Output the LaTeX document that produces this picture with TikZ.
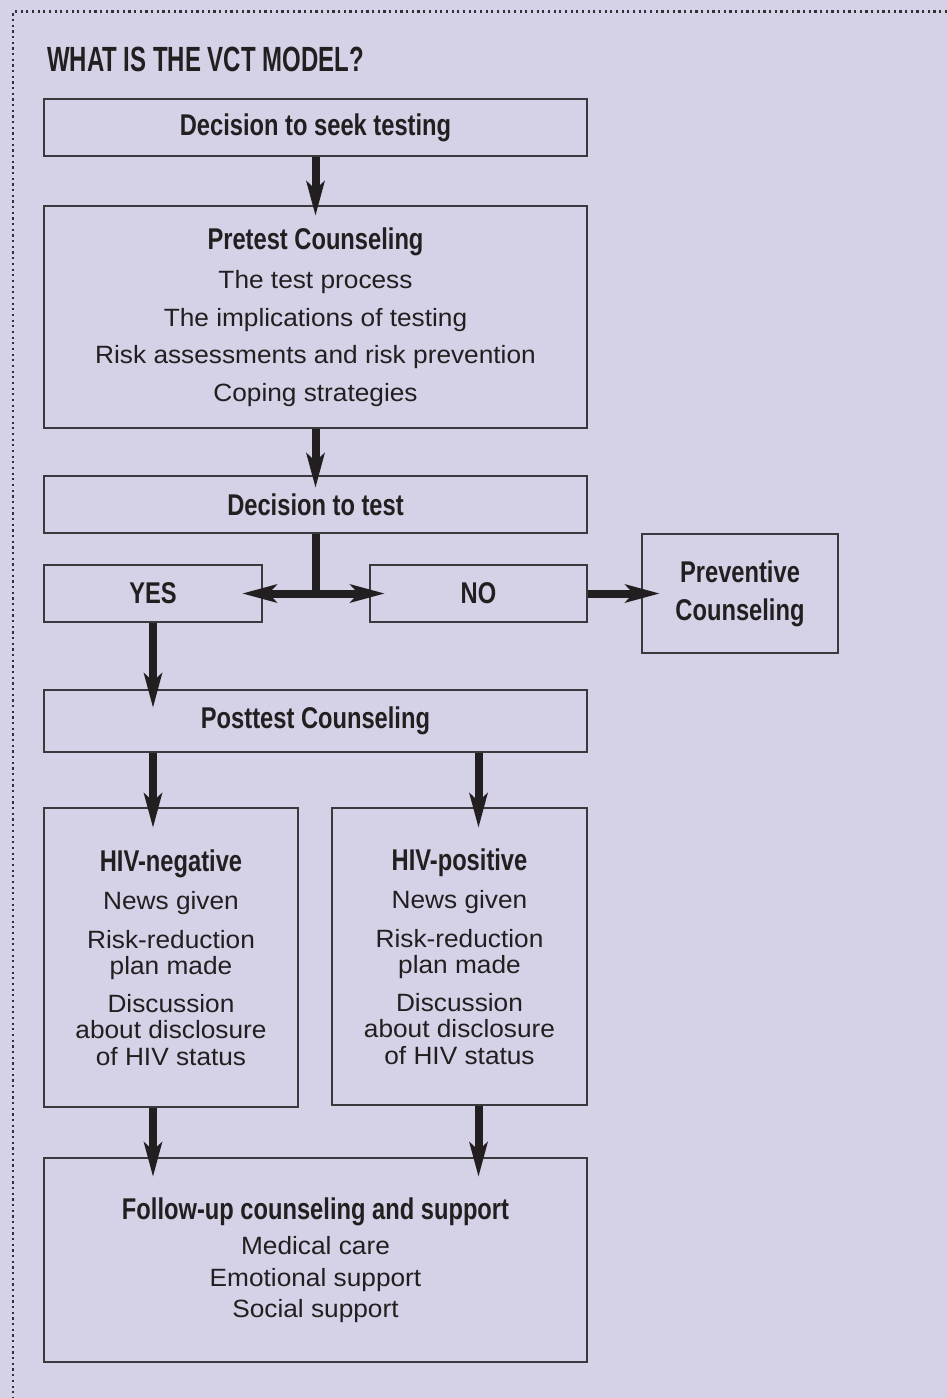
\documentclass[tikz,border=0pt]{standalone}
\usepackage{fontspec}
\setmainfont{Liberation Sans}
\newfontfamily\hdfont[FakeStretch=0.79]{Liberation Sans Bold}
\newfontfamily\ttlfont[FakeStretch=0.685]{Liberation Sans Bold}
\newfontfamily\bodyfont[FakeStretch=1.05]{Liberation Sans}
\usetikzlibrary{arrows.meta}
\definecolor{bg}{RGB}{213,209,230}
\definecolor{txt}{RGB}{35,31,32}
\definecolor{boxc}{RGB}{58,58,62}
\definecolor{dotc}{RGB}{50,48,55}
\newcommand\hdtxt[1]{{\hdfont\fontsize{30}{32}\selectfont #1}}
\tikzset{
  box/.style={draw=boxc, line width=1.3pt, inner sep=0pt, align=center, text=txt,
    font=\bodyfont\fontsize{25}{26}\selectfont},
  arr/.style={line width=8pt, draw=txt,
    -{Stealth[length=35pt,width=19pt,inset=9pt,line width=0pt]}},
  shaft/.style={line width=8pt, draw=txt}
}
\begin{document}
\begin{tikzpicture}[x=1pt,y=-1pt]
\useasboundingbox (0,0) rectangle (947,1398);
\fill[bg] (0,0) rectangle (947,1398);
\draw[dotc, line width=2.2pt, dash pattern=on 2.2pt off 3.47pt] (947,11.5) -- (13.3,11.5) -- (13.3,1398);

\node[anchor=base west, text=txt, font=\ttlfont\fontsize{35}{38}\selectfont, inner sep=0pt] (title) at (47,71) {WHAT IS THE VCT MODEL?};

\node[box, minimum width=543pt, minimum height=57pt] (seek) at (315.5,127.5) {\hdtxt{Decision to seek testing}};

\node[box, minimum width=543pt, minimum height=222pt] (pretest) at (315.5,317) {\hdtxt{Pretest Counseling}\\[13pt]
The test process\\[11.5pt]
The implications of testing\\[11.5pt]
Risk assessments and risk prevention\\[11.5pt]
Coping strategies};

\node[box, minimum width=543pt, minimum height=57pt] (dtest) at (315.5,504.5) {\hdtxt{Decision to test}};

\node[box, minimum width=218pt, minimum height=57pt] (yes) at (153,593.5) {\hdtxt{YES}};
\node[box, minimum width=217pt, minimum height=57pt] (no) at (478.5,593.5) {\hdtxt{NO}};
\node[box, minimum width=196pt, minimum height=119pt] (prev) at (740,593.5) {\hdtxt{Preventive}\\[12pt]\hdtxt{Counseling}};

\node[box, minimum width=543pt, minimum height=62pt] (post) at (315.5,721) {\hdtxt{Posttest Counseling}};

\node[box, minimum width=254pt, minimum height=299pt] (neg) at (171,957.5) {\hdtxt{HIV-negative}\\[12pt]
News given\\[13pt]
Risk-reduction\\
plan made\\[12pt]
Discussion\\
about disclosure\\[1pt]
of HIV status};

\node[box, minimum width=255pt, minimum height=297pt] (pos) at (459.5,956.5) {\hdtxt{HIV-positive}\\[12pt]
News given\\[13pt]
Risk-reduction\\
plan made\\[12pt]
Discussion\\
about disclosure\\[1pt]
of HIV status};

\node[box, minimum width=543pt, minimum height=204pt] (fol) at (315.5,1260) {\hdtxt{Follow-up counseling and support}\\[9pt]
Medical care\\[6pt]
Emotional support\\[5pt]
Social support};

% connectors
\draw[arr, shorten >=-10pt] (seek) -- (pretest);
\draw[arr, shorten >=-12pt] (pretest) -- (dtest);
\coordinate (j) at (315.5,593.5);
\draw[shaft] (dtest.south) -- (j);
\draw[arr, shorten >=-20pt] (j) -- (yes.east);
\draw[arr, shorten >=-15pt] (j) -- (no.west);
\draw[arr, shorten >=-18pt] (no.east) -- (prev.west);
\draw[arr, shorten >=-18pt] (yes.south) -- (yes.south |- post.north);
\draw[arr, shorten >=-20pt] (post.south -| yes.south) -- (neg.north -| yes.south);
\draw[arr, shorten >=-20pt] (post.south -| no.south) -- (pos.north -| no.south);
\draw[arr, shorten >=-19pt] (neg.south -| yes.south) -- (fol.north -| yes.south);
\draw[arr, shorten >=-19pt] (pos.south -| no.south) -- (fol.north -| no.south);
\end{tikzpicture}
\end{document}
